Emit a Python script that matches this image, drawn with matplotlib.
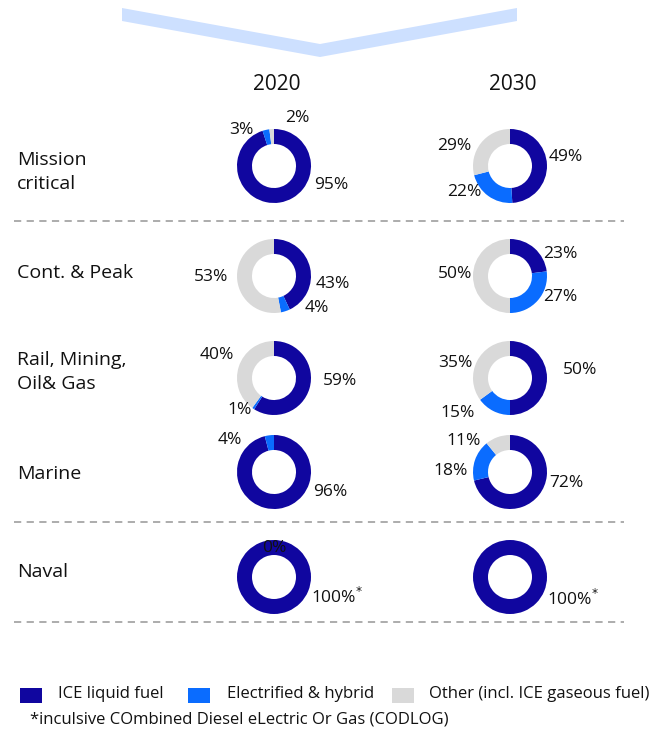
import matplotlib
matplotlib.use("Agg")
import matplotlib.pyplot as plt
from matplotlib.patches import Polygon, Rectangle

# ---------------- data ----------------
rows = ["Mission\ncritical", "Cont. & Peak", "Rail, Mining,\nOil& Gas", "Marine", "Naval"]
years = ["2020", "2030"]
series = ["ICE liquid fuel", "Electrified & hybrid", "Other (incl. ICE gaseous fuel)"]
ice_2020 = [95, 43, 59, 96, 100]
elec_2020 = [3, 4, 1, 4, 0]
other_2020 = [2, 53, 40, 0, 0]
ice_2030 = [49, 23, 50, 72, 100]
elec_2030 = [22, 27, 15, 18, 0]
other_2030 = [29, 50, 35, 11, 0]
label_text_2020 = [["95%", "3%", "2%"], ["43%", "4%", "53%"], ["59%", "1%", "40%"],
                   ["96%", "4%", None], ["100%$^{*}$", "0%", None]]
label_text_2030 = [["49%", "22%", "29%"], ["23%", "27%", "50%"], ["50%", "15%", "35%"],
                   ["72%", "18%", "11%"], ["100%$^{*}$", None, None]]
footnote = "*inculsive COmbined Diesel eLectric Or Gas (CODLOG)"

# ---------------- layout (pixels) ----------------
W, H = 662, 733
colors = ["#10069f", "#0a6cff", "#d9d9d9"]
col_x = [274, 510]
row_y = [166, 276, 378, 472, 577]
row_label_y = [172, 273, 372, 474, 572]
R_OUT, R_W = 37, 15
lab_pos_2020 = [[(331, 185), (241, 130), (297, 118)],
                [(333, 284), (317, 308), (211, 277)],
                [(340, 381), (240, 410), (217, 355)],
                [(330, 492), (230, 440), None],
                [(337, 597), (274, 548), None]]
lab_pos_2030 = [[(566, 157), (464, 192), (454, 146)],
                [(560, 254), (560, 297), (455, 274)],
                [(580, 370), (458, 413), (455, 363)],
                [(566, 483), (451, 471), (464, 441)],
                [(573, 599), None, None]]
dash_y = [221, 522, 622]

FONT = ['Open Sans', 'DejaVu Sans']
plt.rcParams['font.family'] = FONT
fig = plt.figure(figsize=(W / 100, H / 100), dpi=100)
ax = fig.add_axes([0, 0, 1, 1])
ax.set_xlim(0, W)
ax.set_ylim(0, H)
ax.set_aspect('equal')
ax.axis('off')

def Y(y):
    return H - y

chev = Polygon([(122, Y(8)), (320, Y(44)), (517, Y(8)), (517, Y(21)), (320, Y(57)), (122, Y(21))],
               closed=True, facecolor="#cde0ff", edgecolor="none")
ax.add_patch(chev)

for cx, yr in zip(col_x, years):
    ax.text(cx + 3, Y(85), yr, ha='center', va='center', fontsize=15, color='#111')

for dy in dash_y:
    ax.plot([14, 624], [Y(dy), Y(dy)], color='#a6a6a6', lw=1.3, ls=(0, (4, 3)))

for lab, ly in zip(rows, row_label_y):
    ax.text(17, Y(ly), lab, ha='left', va='center', fontsize=14, color='#111', linespacing=1.4)

data_by_year = [(ice_2020, elec_2020, other_2020), (ice_2030, elec_2030, other_2030)]
labels_by_year = [label_text_2020, label_text_2030]
pos_by_year = [lab_pos_2020, lab_pos_2030]

for ci, cx in enumerate(col_x):
    ice, elec, oth = data_by_year[ci]
    for ri, ry in enumerate(row_y):
        vals = [ice[ri], elec[ri], oth[ri]]
        ax.pie(vals, colors=colors, startangle=90, counterclock=False,
               radius=R_OUT, center=(cx, Y(ry)),
               wedgeprops=dict(width=R_W, edgecolor='none', linewidth=0))
        for si in range(3):
            txt = labels_by_year[ci][ri][si]
            pos = pos_by_year[ci][ri][si]
            if txt is None or pos is None:
                continue
            ax.text(pos[0], Y(pos[1]), txt, ha='center', va='center', fontsize=12.5, color='#111')

ax.set_xlim(0, W)
ax.set_ylim(0, H)

leg_sq = [20, 188, 392]
leg_tx = [58, 227, 429]
for sx, tx, c, s in zip(leg_sq, leg_tx, colors, series):
    ax.add_patch(Rectangle((sx, Y(703)), 22, 15, facecolor=c, edgecolor='none'))
    ax.text(tx, Y(694), s, ha='left', va='center', fontsize=12, color='#111')
ax.text(30, Y(720), footnote, ha='left', va='center', fontsize=12, color='#111')

fig.savefig("out.png", dpi=100, facecolor='white')
